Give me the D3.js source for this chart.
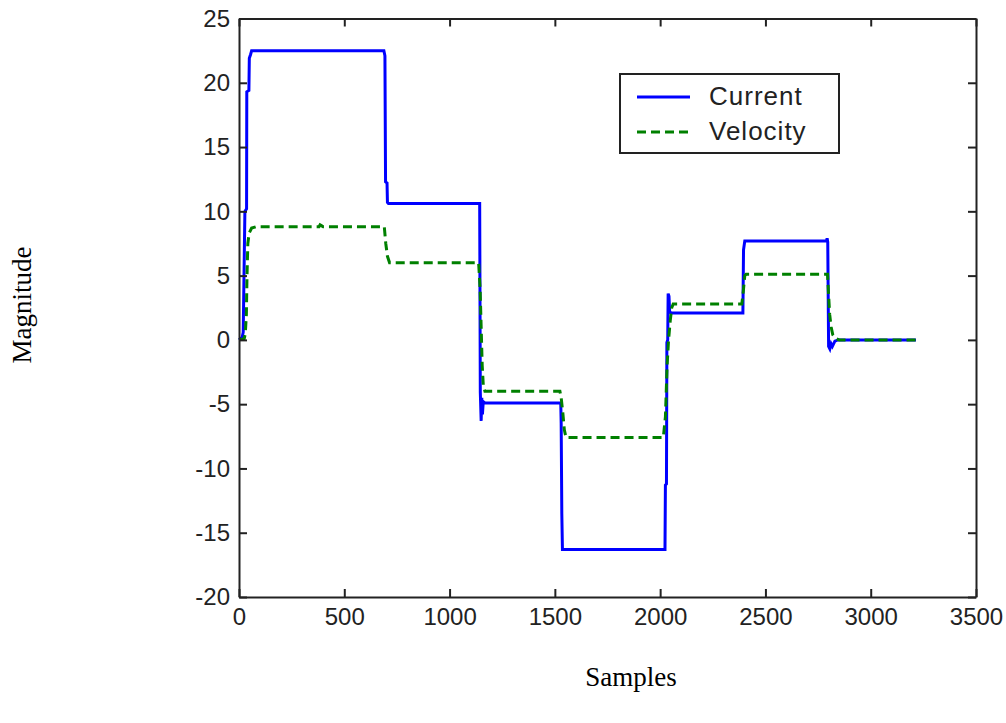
<!DOCTYPE html>
<html>
<head>
<meta charset="utf-8">
<script src="https://cdn.jsdelivr.net/npm/d3@7/dist/d3.min.js"></script>
<style>
  html, body { margin: 0; padding: 0; background: #ffffff; }
  svg { display: block; }
</style>
</head>
<body>
<svg id="chart" width="1006" height="723"></svg>
<script>
// ---- Data ----
const currentSamples = [0, 15, 20, 28, 36, 37, 47, 49, 55, 60, 688, 693, 696, 703, 705, 710,
  1143, 1146, 1150, 1153, 1156, 1160, 1168, 1528, 1530, 1533, 1536, 2023, 2025, 2030, 2032,
  2036, 2038, 2042, 2045, 2051, 2393, 2396, 2402, 2790, 2793, 2796, 2800, 2806, 2812, 2818,
  2830, 2845, 3215];
const currentValues = [0, 0.2, 0.6, 10, 10.2, 19.3, 19.4, 21.9, 22.2, 22.5, 22.5, 22.1, 12.3, 12.2, 10.7, 10.6,
  10.6, -4.1, -6.3, -4.5, -5.8, -4.8, -4.9, -4.9, -6.5, -13.5, -16.3, -16.3, -11.3, -11.2, -0.2,
  0, 3.6, 3.4, 2.2, 2.1, 2.1, 7.0, 7.7, 7.7, 7.9, 7.6, -0.5, -0.7, -0.3, -0.5,
  -0.1, 0, 0];

const velocitySamples = [0, 25, 30, 35, 38, 42, 48, 60, 80, 380, 385, 395, 400, 690, 697, 705, 715,
  1138, 1145, 1150, 1155, 1160, 1168, 1524, 1530, 1538, 1545, 1553, 2015, 2025, 2033, 2040,
  2048, 2055, 2062, 2388, 2395, 2402, 2408, 2795, 2800, 2805, 2812, 2820, 2835, 2850, 3215];
const velocityValues = [0, 0.1, 0.5, 2, 5, 7.5, 8.3, 8.7, 8.8, 8.8, 8.95, 8.85, 8.8, 8.8, 7.5, 6.5, 6.0,
  6.0, 4, 1, -2, -3.5, -4.0, -4.0, -4.5, -5.7, -7.0, -7.6, -7.6, -6, -2, 0,
  1.5, 2.5, 2.8, 2.8, 3.8, 5.0, 5.1, 5.1, 3.5, 2.0, 1.0, 0.4, 0.1, 0, 0];

const xTicks = [0, 500, 1000, 1500, 2000, 2500, 3000, 3500];
const yTicks = [-20, -15, -10, -5, 0, 5, 10, 15, 20, 25];
const seriesNames = ["Current", "Velocity"];
const xTitle = "Samples";
const yTitle = "Magnitude";

// ---- Layout ----
const svg = d3.select("#chart");
const pLeft = 239, pRight = 976, pTop = 18.5, pBottom = 597;
const x = d3.scaleLinear().domain([0, 3500]).range([pLeft, pRight]);
const y = d3.scaleLinear().domain([-20, 25]).range([pBottom, pTop]);

const axisColor = "#222";
const tickFont = "'Liberation Sans', Arial, sans-serif";
const fmt = d => String(d);

// Lines
const line = d3.line().x(d => x(d[0])).y(d => y(d[1]));
const cur = currentSamples.map((s, i) => [s, currentValues[i]]);
const vel = velocitySamples.map((s, i) => [s, velocityValues[i]]);

svg.append("path").datum(cur).attr("d", line)
  .attr("fill", "none").attr("stroke", "#0000ff").attr("stroke-width", 3)
  .attr("stroke-linejoin", "miter");
svg.append("path").datum(vel).attr("d", line)
  .attr("fill", "none").attr("stroke", "#008000").attr("stroke-width", 3)
  .attr("stroke-dasharray", "9,5");

// Axes (ticks inward on all four sides)
const tl = 8;
const xb = d3.axisBottom(x).tickValues(xTicks).tickSizeInner(-tl).tickSizeOuter(0).tickPadding(11).tickFormat(fmt);
const xt = d3.axisTop(x).tickValues(xTicks).tickSizeInner(-tl).tickSizeOuter(0).tickFormat("");
const yl = d3.axisLeft(y).tickValues(yTicks).tickSizeInner(-tl).tickSizeOuter(0).tickPadding(9).tickFormat(fmt);
const yr = d3.axisRight(y).tickValues(yTicks).tickSizeInner(-tl).tickSizeOuter(0).tickFormat("");

function styleAxis(g) {
  g.selectAll("path").attr("stroke", axisColor).attr("stroke-width", 2);
  g.selectAll("line").attr("stroke", axisColor).attr("stroke-width", 2);
  g.selectAll("text").attr("fill", "#222").style("font-family", tickFont).style("font-size", "24px");
}
svg.append("g").attr("transform", `translate(0,${pBottom})`).call(xb).call(styleAxis);
svg.append("g").attr("transform", `translate(0,${pTop})`).call(xt).call(styleAxis);
svg.append("g").attr("transform", `translate(${pLeft},0)`).call(yl).call(styleAxis);
svg.append("g").attr("transform", `translate(${pRight},0)`).call(yr).call(styleAxis);

// Axis titles
svg.append("text").attr("x", 631).attr("y", 686).attr("text-anchor", "middle")
  .style("font-family", "'Liberation Serif', 'Times New Roman', serif").style("font-size", "27px")
  .attr("fill", "#000").text(xTitle);
svg.append("text").attr("transform", "translate(31,305) rotate(-90)").attr("text-anchor", "middle")
  .style("font-family", "'Liberation Serif', 'Times New Roman', serif").style("font-size", "27px")
  .attr("fill", "#000").text(yTitle);

// Legend
const lg = svg.append("g");
lg.append("rect").attr("x", 620).attr("y", 74).attr("width", 219).attr("height", 79)
  .attr("fill", "#fff").attr("stroke", "#222").attr("stroke-width", 2);
const legendItems = [
  { name: seriesNames[0], color: "#0000ff", dash: null, yy: 97 },
  { name: seriesNames[1], color: "#008000", dash: "9,5", yy: 132 }
];
legendItems.forEach(it => {
  lg.append("line").attr("x1", 637).attr("x2", 690).attr("y1", it.yy).attr("y2", it.yy)
    .attr("stroke", it.color).attr("stroke-width", 3).attr("stroke-dasharray", it.dash);
  lg.append("text").attr("x", 709).attr("y", it.yy + 8)
    .style("font-family", tickFont).style("font-size", "26px").style("letter-spacing", "1px")
    .attr("fill", "#222").text(it.name);
});
</script>
</body>
</html>
